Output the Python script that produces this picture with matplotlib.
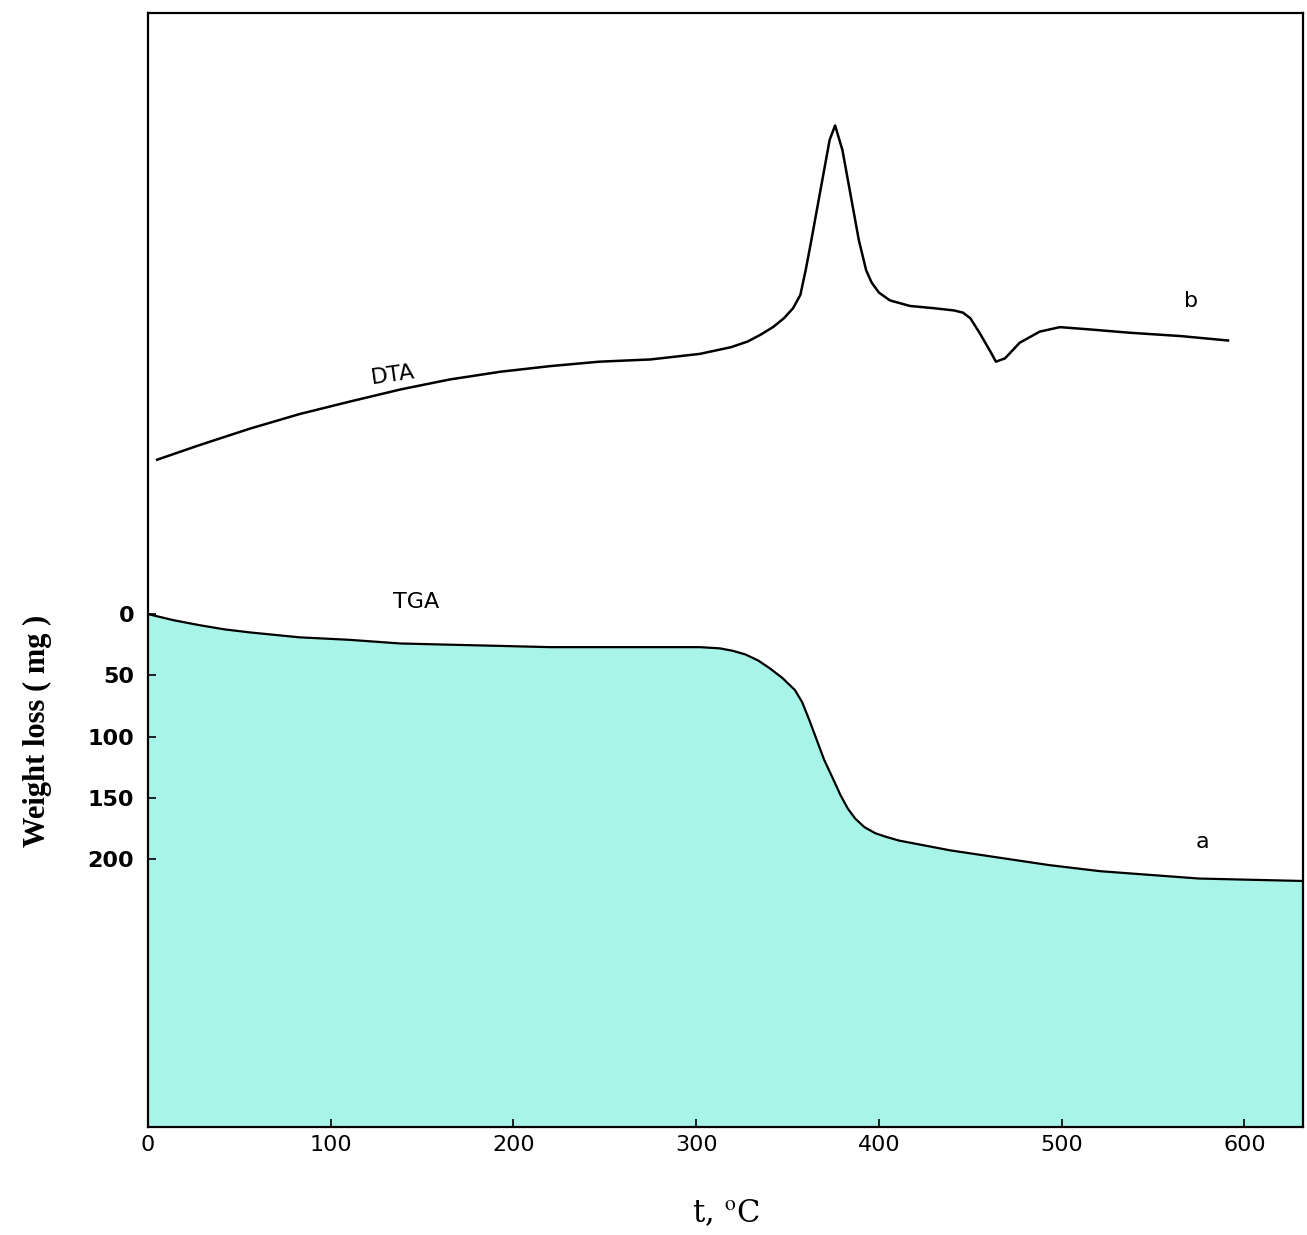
import matplotlib
matplotlib.use("Agg")
import matplotlib.pyplot as plt

plt.rcParams["mathtext.fontset"] = "stix"

# ---- data ----
tga_t = [0, 14, 28, 42, 56, 83, 110, 138, 165, 193, 220, 247, 275, 302, 313, 320, 327,
         334, 340, 347, 354, 358, 362, 366, 370, 375, 379, 383, 387, 392, 398, 404,
         411, 425, 439, 466, 493, 521, 548, 575, 603, 632]
tga_mg = [0, 5, 9, 12.5, 15, 19, 21, 24, 25, 26, 27, 27, 27, 27, 28, 30, 33,
          38, 44, 52, 62, 72, 87, 103, 119, 135, 148, 159, 167, 174, 179, 182,
          185, 189, 193, 199, 205, 210, 213, 216, 217, 218]

dta_t = [5, 28, 56, 83, 110, 138, 165, 193, 220, 247, 275, 302, 319, 328, 335, 342, 348,
         353, 357, 360, 363, 369, 373, 376, 380, 385, 389, 393, 396, 400, 406, 417, 430,
         441, 446, 450, 455, 461, 464, 469, 477, 488, 499, 515, 537, 565, 591]
dta_v = [59.9, 61.2, 62.7, 64.0, 65.1, 66.2, 67.1, 67.8, 68.3, 68.7, 68.9, 69.4, 70.0,
         70.5, 71.1, 71.8, 72.6, 73.5, 74.7, 77.0, 79.6, 85.0, 88.6, 89.9, 87.7, 83.2,
         79.6, 76.9, 75.8, 74.9, 74.2, 73.7, 73.5, 73.3, 73.1, 72.6, 71.3, 69.6, 68.7,
         69.0, 70.4, 71.4, 71.8, 71.6, 71.3, 71.0, 70.6]

x_ticks = [0, 100, 200, 300, 400, 500, 600]
y_ticks = [0, 50, 100, 150, 200]

fill_color = "#a9f4e8"

fig = plt.figure(figsize=(13.07, 12.35), dpi=100)
ax = fig.add_axes([0.1132, 0.0874, 0.8837, 0.9021])

ax.fill_between(tga_t, tga_mg, 419, color=fill_color, linewidth=0, zorder=1)
ax.plot(tga_t, tga_mg, color="black", lw=1.6, solid_joinstyle="round", zorder=3)
ax.set_xlim(0, 632)
ax.set_ylim(419, -491)

ax.set_xticks(x_ticks)
ax.set_xticklabels([str(v) for v in x_ticks], fontsize=16)
ax.set_yticks(y_ticks)
ax.set_yticklabels([str(v) for v in y_ticks], fontsize=16, fontweight="semibold")
ax.tick_params(axis="both", direction="in", length=6, width=1.2)
ax.tick_params(axis="x", pad=6)
ax.tick_params(axis="y", pad=10)
for s in ax.spines.values():
    s.set_linewidth(1.6)

ax2 = ax.twinx()
ax2.set_ylim(0, 100)
ax2.plot(dta_t, dta_v, color="black", lw=1.8, solid_joinstyle="round", zorder=3)
ax2.set_yticks([])
for s in ax2.spines.values():
    s.set_visible(False)

ax.text(134, -195, "DTA", fontsize=16, rotation=8, ha="center", va="center")
ax.text(147, -10, "TGA", fontsize=16, ha="center", va="center")
ax.text(571, -256, "b", fontsize=16, ha="center", va="center")
ax.text(577, 186, "a", fontsize=16, ha="center", va="center")

ax.set_xlabel("t, $^{\\rm o}$C", fontsize=22, family="DejaVu Serif", labelpad=31)
fig.text(0.029, 0.408, "Weight loss ( mg )", rotation=90, fontsize=22,
         fontweight="bold", family="Liberation Serif", ha="center", va="center")

fig.savefig("out.png", dpi=100)
